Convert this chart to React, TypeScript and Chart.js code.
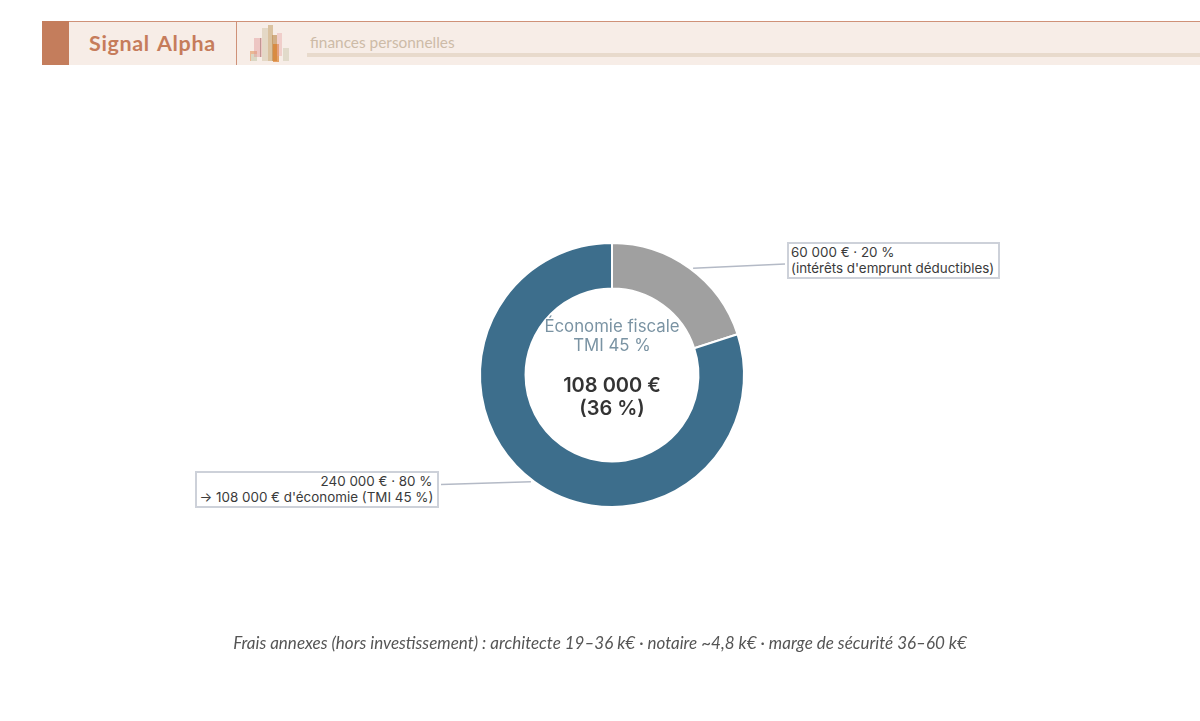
import React, { useEffect, useRef } from "react";
import { Chart, registerables } from "chart.js";

Chart.register(...registerables);

const categories = ["Intérêts d'emprunt déductibles", "Investissement avec économie"];
const values = [60000, 240000];
const colors = ["#A0A0A0", "#3D6E8C"];
const brand = "Signal Alpha";
const topic = "finances personnelles";
const centerTitle = ["Économie fiscale", "TMI 45 %"];
const centerValue = ["108 000 €", "(36 %)"];
const grayLabel = ["60 000 € · 20 %", "(intérêts d'emprunt déductibles)"];
const blueLabel = ["240 000 € · 80 %", "→ 108 000 € d'économie (TMI 45 %)"];
const footnote = "Frais annexes (hors investissement) : architecte 19–36 k€ · notaire ~4,8 k€ · marge de sécurité 36–60 k€";

const logoBars: [number, number, number, number, string][] = [
  [250, 51, 7, 10, "rgba(224,140,80,.55)"],
  [251, 54, 6, 7, "rgba(215,220,205,.85)"],
  [254, 38, 8, 19, "rgba(225,150,150,.45)"],
  [260, 38, 1, 19, "rgba(150,100,100,.5)"],
  [262, 28, 6, 33, "rgba(222,210,190,.8)"],
  [268, 25, 5, 36, "rgba(205,175,130,.7)"],
  [272, 35, 5, 26, "rgba(190,140,80,.65)"],
  [273, 44, 6, 18, "rgba(220,120,30,.65)"],
  [277, 33, 5, 23, "rgba(230,160,160,.4)"],
  [283, 48, 6, 13, "rgba(215,210,190,.7)"],
];

const leaderPlugin = {
  id: "leaders",
  afterDraw(chart: any) {
    const arcs = chart.getDatasetMeta(0).data;
    if (!arcs.length) return;
    const ctx = chart.ctx;
    const segment = (arc: any, dir: number, endX: number, endY: number) => {
      const { x, y, startAngle, endAngle, outerRadius } = arc.getProps(["x", "y", "startAngle", "endAngle", "outerRadius"], true);
      const mid = (startAngle + endAngle) / 2;
      ctx.save();
      ctx.strokeStyle = "#B4BAC6";
      ctx.lineWidth = 1.5;
      ctx.beginPath();
      ctx.moveTo(x + Math.cos(mid) * outerRadius + dir * 3.5, y + Math.sin(mid) * outerRadius);
      ctx.lineTo(endX, endY);
      ctx.stroke();
      ctx.restore();
    };
    segment(arcs[0], 1, 785, 264);
    segment(arcs[1], -1, 441, 484.5);
  },
};

const abs = (s: React.CSSProperties): React.CSSProperties => ({ position: "absolute", ...s });
const boxStyle: React.CSSProperties = {
  position: "absolute",
  boxSizing: "border-box",
  border: "2px solid #CDD1D9",
  background: "#fff",
  font: "13.4px/16px Inter, sans-serif",
  color: "#3A3A3A",
  whiteSpace: "nowrap",
  padding: "0 3px",
  height: 37,
};

export default function App() {
  const ref = useRef<HTMLCanvasElement>(null);
  useEffect(() => {
    const chart = new Chart(ref.current!, {
      type: "doughnut",
      data: {
        labels: categories,
        datasets: [{ data: values, backgroundColor: colors, borderColor: "#fff", borderWidth: 2 }],
      },
      options: {
        responsive: false,
        animation: false,
        cutout: "65.5%",
        layout: { padding: { left: 479, right: 455, top: 241, bottom: 212 } },
        plugins: { legend: { display: false }, tooltip: { enabled: false } },
      },
      plugins: [leaderPlugin],
    } as any);
    return () => chart.destroy();
  }, []);

  return (
    <div style={abs({ left: 0, top: 0, width: 1200, height: 721, background: "#fff", overflow: "hidden" })}>
      <canvas ref={ref} width={1200} height={721} style={abs({ left: 0, top: 0, width: 1200, height: 721 })} />

      <div style={abs({ left: 42, top: 21, width: 1158, height: 44, background: "#F7EDE7", borderTop: "1px solid #CF9178", boxSizing: "border-box" })} />
      <div style={abs({ left: 42, top: 21, width: 27, height: 44, background: "#C47D5C" })} />
      <div style={abs({ left: 236, top: 21, width: 1, height: 44, background: "#CF9178" })} />
      <div style={abs({ left: 89, top: 29, font: "700 21.5px/28px Lato, sans-serif", color: "#C67C5B", letterSpacing: 0.65, wordSpacing: 2 })}>{brand}</div>
      {logoBars.map(([x, y, w, h, c], i) => (
        <div key={i} style={abs({ left: x, top: y, width: w, height: h, background: c })} />
      ))}
      <div style={abs({ left: 310, top: 32, font: "15.4px/20px Lato, sans-serif", color: "#CDBBA7" })}>{topic}</div>
      <div style={abs({ left: 307, top: 53, width: 893, height: 4, background: "#E8DACC" })} />

      <div style={abs({ left: 412, width: 400, top: 317, textAlign: "center", font: "16.8px/19px Inter, sans-serif", color: "#7A93A3" })}>
        {centerTitle.map((t) => <div key={t}>{t}</div>)}
      </div>
      <div style={abs({ left: 412, width: 400, top: 374, textAlign: "center", font: "600 20px/23px Inter, sans-serif", color: "#333" })}>
        {centerValue.map((t) => <div key={t}>{t}</div>)}
      </div>

      <div style={{ ...boxStyle, left: 787, top: 242, width: 213, paddingLeft: 2 }}>
        {grayLabel.map((t) => <div key={t}>{t}</div>)}
      </div>
      <div style={{ ...boxStyle, left: 194.5, top: 470.5, width: 244, textAlign: "right", paddingRight: 4 }}>
        {blueLabel.map((t) => <div key={t}>{t}</div>)}
      </div>

      <div style={abs({ left: 0, width: 1200, top: 633, textAlign: "center", font: "italic 17px/20px Lato, sans-serif", color: "#555" })}>{footnote}</div>
    </div>
  );
}
